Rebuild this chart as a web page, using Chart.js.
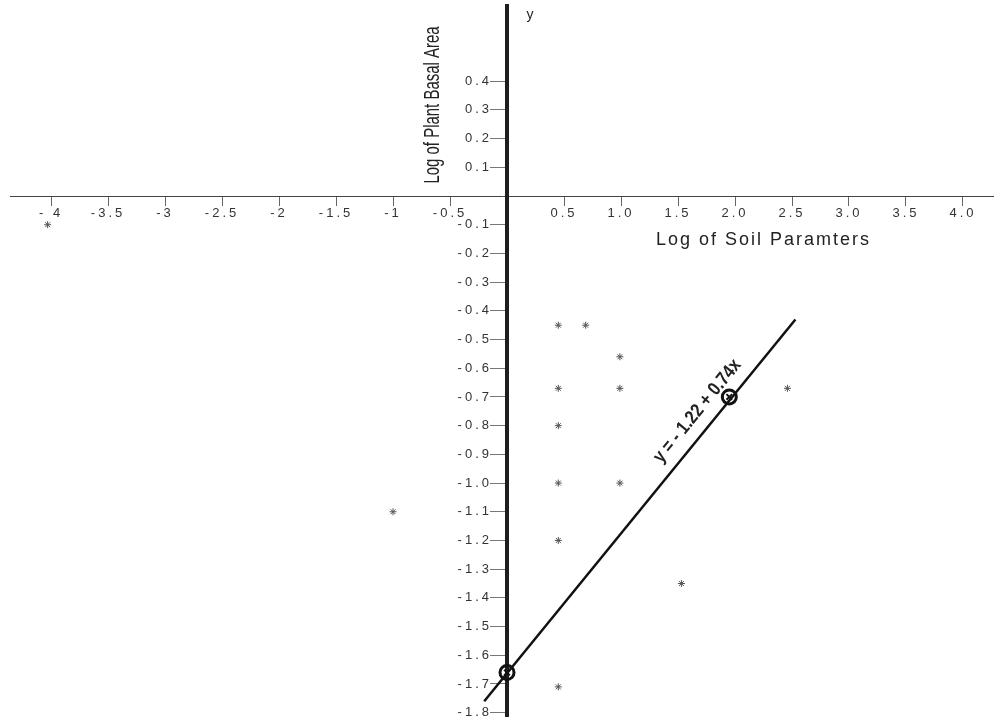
<!DOCTYPE html>
<html>
<head>
<meta charset="utf-8">
<script src="https://cdn.jsdelivr.net/npm/chart.js@4.4.0/dist/chart.umd.min.js"></script>
<style>
  html, body { margin: 0; padding: 0; background: #fff; }
  #wrap { width: 994px; height: 717px; position: relative; }
</style>
</head>
<body>
<div id="wrap"><canvas id="chart"></canvas></div>
<script>
// tick values and the labels printed for them
const xTickValues = [-4, -3.5, -3, -2.5, -2, -1.5, -1, -0.5, 0.5, 1, 1.5, 2, 2.5, 3, 3.5, 4];
const xTickLabels = ["- 4", "-3.5", "-3", "-2.5", "-2", "-1.5", "-1", "-0.5", "0.5", "1.0", "1.5", "2.0", "2.5", "3.0", "3.5", "4.0"];
const yTickValues = [0.4, 0.3, 0.2, 0.1, -0.1, -0.2, -0.3, -0.4, -0.5, -0.6, -0.7, -0.8, -0.9, -1.0, -1.1, -1.2, -1.3, -1.4, -1.5, -1.6, -1.7, -1.8];

// observations (log soil parameter, log plant basal area)
const obsX = [-4.03, -1.0, 0.45, 0.69, 0.99, 0.45, 0.99, 2.46, 0.45, 0.45, 0.99, 0.45, 1.53, 0.45];
const obsY = [-0.1, -1.1, -0.45, -0.45, -0.56, -0.67, -0.67, -0.67, -0.8, -1.0, -1.0, -1.2, -1.35, -1.71];

// fitted line ends and the two circled points on it
const fitX = [-0.2, 2.53];
const fitY = [-1.76, -0.43];
const markX = [0, 1.95];
const markY = [-1.66, -0.7];

const EQUATION = "y = - 1.22 + 0.74x";
const X_TITLE = "Log of Soil Paramters";
const Y_TITLE = "Log of Plant Basal Area";
const FONT = "'Liberation Sans', Arial, sans-serif";
const INK = "#1e1e1e";

const toPoints = (xs, ys) => xs.map((x, i) => ({ x: x, y: ys[i] }));

const spacing = {
  id: "spacing",
  beforeLayout(chart) { chart.ctx.letterSpacing = "3px"; },
  beforeDraw(chart) {
    chart.ctx.letterSpacing = "3px";
    // the y axis sits inside the plot, so push its labels left of the tick marks
    const y = chart.scales.y;
    if (!y._shifted) {
      const orig = y._computeLabelItems;
      y._computeLabelItems = function (area) {
        const items = orig.call(this, area);
        items.forEach((it) => { it.options.translation[0] -= 15; });
        return items;
      };
      y._shifted = true;
    }
  },
};

// titles, the little "y" and the equation along the fitted line
const annotations = {
  id: "annotations",
  afterDatasetsDraw(chart) {
    const ctx = chart.ctx;
    const xs = chart.scales.x, ys = chart.scales.y;
    const x0 = xs.getPixelForValue(0), y0 = ys.getPixelForValue(0);
    ctx.save();
    ctx.fillStyle = "#222";

    ctx.letterSpacing = "2px";
    ctx.font = "18px " + FONT;
    ctx.textAlign = "center";
    ctx.textBaseline = "middle";
    ctx.fillText(X_TITLE, xs.getPixelForValue(2.25), y0 + 44);

    ctx.letterSpacing = "0px";
    ctx.font = "14px " + FONT;
    ctx.fillText("y", x0 + 23, 15);

    ctx.save();
    ctx.translate(x0 - 74, 105);
    ctx.rotate(-Math.PI / 2);
    ctx.scale(0.68, 1);
    ctx.font = "22px " + FONT;
    ctx.fillText(Y_TITLE, 0, 0);
    ctx.restore();

    const x1 = xs.getPixelForValue(fitX[0]), y1 = ys.getPixelForValue(fitY[0]);
    const x2 = xs.getPixelForValue(fitX[1]), y2 = ys.getPixelForValue(fitY[1]);
    const t = 0.73;
    ctx.translate(x1 + (x2 - x1) * t, y1 + (y2 - y1) * t);
    ctx.rotate(Math.atan2(y2 - y1, x2 - x1));
    ctx.translate(0, -18);
    ctx.scale(0.85, 1);
    ctx.font = "bold 19px " + FONT;
    ctx.fillText(EQUATION, 0, 0);
    ctx.restore();
  },
};

new Chart(document.getElementById("chart"), {
  type: "scatter",
  data: {
    datasets: [
      {
        type: "line",
        data: toPoints(fitX, fitY),
        borderColor: "#111",
        borderWidth: 2.5,
        pointRadius: 0,
        fill: false,
      },
      {
        data: toPoints(markX, markY),
        pointStyle: "circle",
        pointRadius: 7,
        borderWidth: 3,
        borderColor: "#111",
        backgroundColor: "rgba(0,0,0,0)",
      },
      {
        data: toPoints(markX, markY),
        pointStyle: "crossRot",
        pointRadius: 4,
        borderWidth: 2,
        borderColor: "#111",
      },
      {
        data: toPoints(obsX, obsY),
        pointStyle: "star",
        pointRadius: 3.5,
        borderWidth: 1,
        borderColor: "#555",
      },
    ],
  },
  options: {
    responsive: true,
    maintainAspectRatio: false,
    animation: false,
    layout: { autoPadding: false, padding: { left: 10, right: 0, top: 6, bottom: 0 } },
    plugins: { legend: { display: false }, tooltip: { enabled: false } },
    scales: {
      x: {
        type: "linear",
        position: { y: 0 },
        min: -4.36,
        max: 4.272,
        afterBuildTicks: (scale) => { scale.ticks = xTickValues.map((v) => ({ value: v })); },
        afterFit: (scale) => { scale.paddingLeft = 0; scale.paddingRight = 0; },
        ticks: {
          color: "#333",
          font: { family: FONT, size: 13 },
          padding: 1,
          maxRotation: 0,
          autoSkip: false,
          callback: (value, index) => xTickLabels[index],
        },
        grid: { display: true, drawOnChartArea: false, drawTicks: true, tickLength: 9, color: "#666", lineWidth: 1 },
        border: { display: true, color: "#444", width: 1 },
      },
      y: {
        type: "linear",
        position: { x: 0 },
        min: -1.815,
        max: 0.662,
        afterBuildTicks: (scale) => { scale.ticks = yTickValues.map((v) => ({ value: v })); },
        afterFit: (scale) => { scale.paddingTop = 0; scale.paddingBottom = 0; },
        ticks: {
          color: "#333",
          font: { family: FONT, size: 13 },
          padding: 2,
          autoSkip: false,
          callback: (value) => value.toFixed(1),
        },
        grid: { display: true, drawOnChartArea: false, drawTicks: true, tickLength: 15, color: "#777", lineWidth: 1 },
        border: { display: true, color: INK, width: 4 },
      },
    },
  },
  plugins: [spacing, annotations],
});
</script>
</body>
</html>
